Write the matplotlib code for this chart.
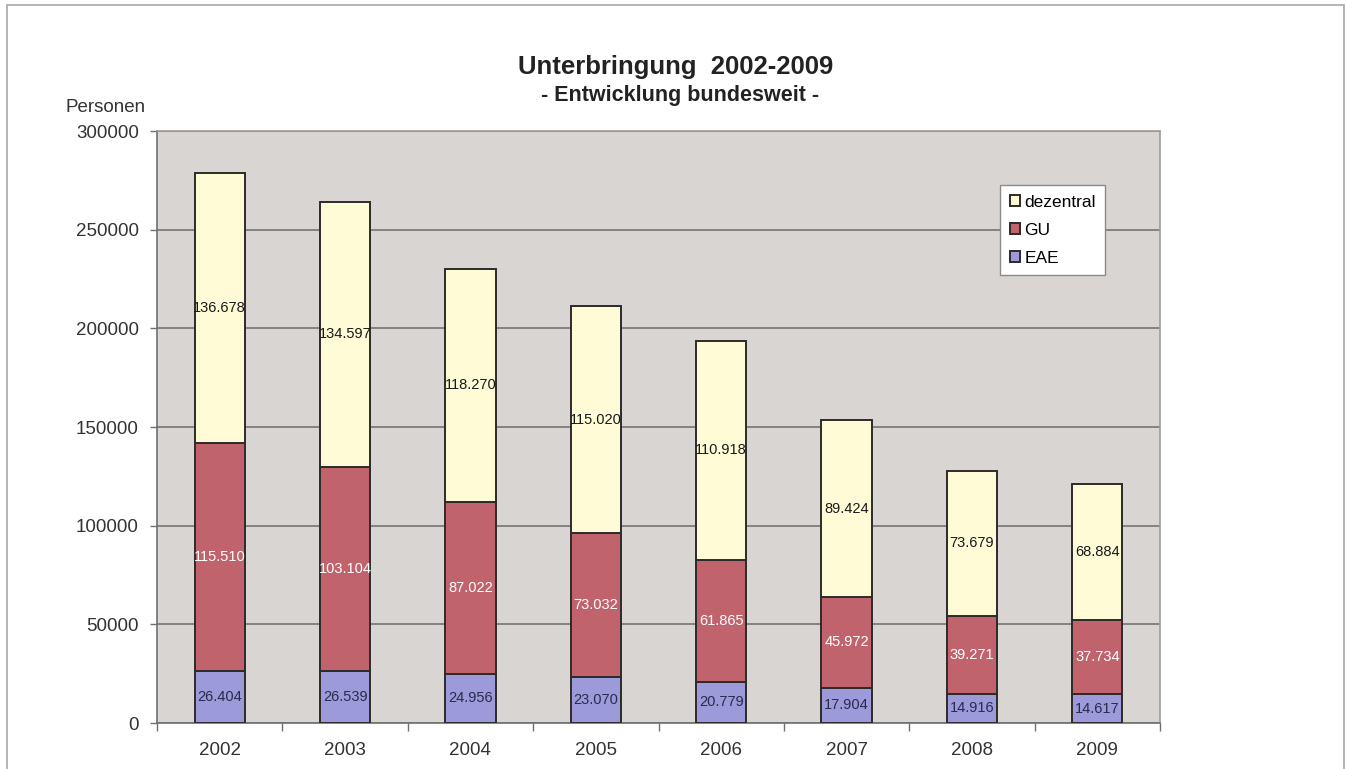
import matplotlib
matplotlib.use("Agg")
import matplotlib.pyplot as plt
from matplotlib.patches import Rectangle
import numpy as np

plt.rcParams['font.family'] = ['Liberation Sans', 'DejaVu Sans']

years = ["2002", "2003", "2004", "2005", "2006", "2007", "2008", "2009"]
eae = [26404, 26539, 24956, 23070, 20779, 17904, 14916, 14617]
gu = [115510, 103104, 87022, 73032, 61865, 45972, 39271, 37734]
dezentral = [136678, 134597, 118270, 115020, 110918, 89424, 73679, 68884]
yticks = [0, 50000, 100000, 150000, 200000, 250000, 300000]

def fmt(v):
    return f"{v:,}".replace(",", ".")

W, H = 1346, 769
fig = plt.figure(figsize=(W / 100, H / 100), dpi=100)
fig.patch.set_facecolor("white")

# outer frame
fig.patches.append(Rectangle((7 / W, -0.05), (1344 - 7) / W, 1.05 - 5 / H,
                             transform=fig.transFigure, fill=False,
                             edgecolor="#a8a8a8", linewidth=1.2))

ax = fig.add_axes([157 / W, 46 / H, (1160 - 157) / W, (723 - 131) / H])
ax.set_facecolor("#d9d5d2")

x = np.arange(len(years))
bw = 0.4
c_eae, c_gu, c_dez = "#9c9ad8", "#c0636c", "#fefbd6"
ec = "#2e2a2a"
eae_a = np.array(eae)
gu_a = np.array(gu)
dez_a = np.array(dezentral)

b1 = ax.bar(x, eae_a, bw, color=c_eae, edgecolor=ec, linewidth=1.4, zorder=3, label="EAE")
b2 = ax.bar(x, gu_a, bw, bottom=eae_a, color=c_gu, edgecolor=ec, linewidth=1.4, zorder=3, label="GU")
b3 = ax.bar(x, dez_a, bw, bottom=eae_a + gu_a, color=c_dez, edgecolor=ec, linewidth=1.4, zorder=3, label="dezentral")

lfs = 10.5
for i in range(len(years)):
    ax.text(x[i], eae_a[i] / 2, fmt(eae[i]), ha="center", va="center",
            fontsize=lfs, color="#2a2a50", zorder=4)
    ax.text(x[i], eae_a[i] + gu_a[i] / 2, fmt(gu[i]), ha="center", va="center",
            fontsize=lfs, color="white", zorder=4)
    ax.text(x[i], eae_a[i] + gu_a[i] + dez_a[i] / 2, fmt(dezentral[i]), ha="center",
            va="center", fontsize=lfs, color="#1a1a1a", zorder=4)

ax.set_xlim(-0.5, len(years) - 0.5)
ax.set_ylim(0, 300000)
ax.set_yticks(yticks)
ax.set_yticklabels([str(v) for v in yticks], fontsize=13.5, color="#333333")
ax.yaxis.grid(True, color="#6e6a6a", linewidth=1.1, zorder=1)
ax.set_axisbelow(True)

ax.set_xticks(x)
ax.set_xticklabels(years, fontsize=13.5, color="#333333")
ax.tick_params(axis="x", length=0, pad=14)
ax.set_xticks(np.arange(-0.5, len(years) + 0.5, 1), minor=True)
ax.tick_params(axis="x", which="minor", length=6, color="#707070", width=1)
ax.tick_params(axis="y", length=5, color="#707070", width=1, pad=8)

for s in ["top", "right"]:
    ax.spines[s].set_color("#a09c9c")
    ax.spines[s].set_linewidth(1.2)
for s in ["left", "bottom"]:
    ax.spines[s].set_color("#707070")
    ax.spines[s].set_linewidth(1.2)

handles = [b3, b2, b1]
leg = ax.legend(handles, ["dezentral", "GU", "EAE"], loc="upper left",
                bbox_to_anchor=((1000 - 157) / (1160 - 157), (723 - 185) / (723 - 131)),
                frameon=True, fancybox=False, fontsize=12.5, handlelength=0.6,
                handleheight=0.6, handletextpad=0.25, labelspacing=0.75,
                borderpad=0.55, borderaxespad=0)
leg.get_frame().set_edgecolor("#8a8a8a")
leg.get_frame().set_linewidth(1.0)
leg.get_frame().set_facecolor("white")
leg.get_frame().set_alpha(1)
leg.set_zorder(5)

fig.text(676 / W, 1 - 67 / H, "Unterbringung  2002-2009", ha="center", va="center",
         fontsize=18.5, fontweight="bold", color="#222222")
fig.text(680 / W, 1 - 96 / H, "- Entwicklung bundesweit -", ha="center", va="center",
         fontsize=15.5, fontweight="bold", color="#222222")
fig.text(106 / W, 1 - 107 / H, "Personen", ha="center", va="center",
         fontsize=13.5, color="#333333")

fig.savefig("out.png", dpi=100)
